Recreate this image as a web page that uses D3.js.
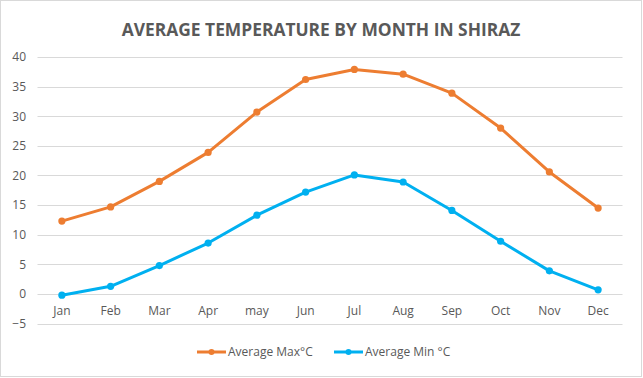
<!DOCTYPE html>
<html><head><meta charset="utf-8">
<script src="https://cdn.jsdelivr.net/npm/d3@7"></script>
<style>body{margin:0;background:#fff;} svg{display:block;font-family:"Open Sans","Noto Sans",sans-serif;}</style>
</head><body>
<svg id="c" width="643" height="378"></svg>
<script>
const months = ["Jan","Feb","Mar","Apr","may","Jun","Jul","Aug","Sep","Oct","Nov","Dec"];
const maxTemps = [12.3,14.7,19.0,23.9,30.7,36.2,37.9,37.1,33.9,28.0,20.6,14.5];
const minTemps = [-0.2,1.3,4.8,8.6,13.3,17.2,20.1,18.9,14.1,8.9,3.9,0.7];
const yTicks = [-5,0,5,10,15,20,25,30,35,40];
const seriesNames = ["Average Max°C","Average Min °C"];
const colors = ["#ED7D31","#00B0F0"];

const svg = d3.select("#c");
svg.append("rect").attr("x",0.5).attr("y",0.5).attr("width",641).attr("height",376)
  .attr("fill","#fff").attr("stroke","#D9D9D9");

const x = d3.scaleBand().domain(months).range([37.5,622.5]);
const y = d3.scaleLinear().domain([-5,40]).range([323.6,57]);

svg.append("text").attr("x",321).attr("y",36).attr("text-anchor","middle")
  .attr("font-size",17.4).attr("font-weight","bold").attr("fill","#595959")
  .text("AVERAGE TEMPERATURE BY MONTH IN SHIRAZ");

// gridlines
svg.append("g").selectAll("line").data(yTicks).join("line")
  .attr("x1",37.5).attr("x2",622.5)
  .attr("y1",d=>Math.round(y(d))+0.5).attr("y2",d=>Math.round(y(d))+0.5)
  .attr("stroke","#D9D9D9").attr("stroke-width",1);

// y axis labels
const yAxis = d3.axisLeft(y).tickValues(yTicks).tickSize(0).tickPadding(0);
const gy = svg.append("g").attr("transform","translate(26,0)").call(yAxis);
gy.select(".domain").remove();
gy.selectAll("text").attr("font-size",12).attr("fill","#595959").attr("font-family","Open Sans, sans-serif");

// x axis labels
const xAxis = d3.axisBottom(x).tickSize(0).tickPadding(0);
const gx = svg.append("g").attr("transform","translate(0,306)").call(xAxis);
gx.select(".domain").remove();
gx.selectAll("text").attr("font-size",12).attr("fill","#595959").attr("font-family","Open Sans, sans-serif");

const cx = d => x(d) + x.bandwidth()/2;
const line = d3.line().x((d,i)=>cx(months[i])).y(d=>y(d));
[maxTemps,minTemps].forEach((s,k)=>{
  svg.append("path").datum(s).attr("d",line).attr("fill","none")
    .attr("stroke",colors[k]).attr("stroke-width",3).attr("stroke-linejoin","round").attr("stroke-linecap","round");
  svg.append("g").selectAll("circle").data(s).join("circle")
    .attr("cx",(d,i)=>cx(months[i])).attr("cy",d=>y(d)).attr("r",3.6).attr("fill",colors[k]);
});

// legend
const legX = [197,334];
seriesNames.forEach((n,k)=>{
  const g = svg.append("g").attr("transform",`translate(${legX[k]},352)`);
  g.append("line").attr("x1",0).attr("x2",29).attr("y1",0).attr("y2",0).attr("stroke",colors[k]).attr("stroke-width",3);
  g.append("circle").attr("cx",14.5).attr("cy",0).attr("r",3).attr("fill",colors[k]);
  g.append("text").attr("x",31).attr("y",4).attr("font-size",12).attr("fill","#595959").text(n);
});
</script>
</body></html>
